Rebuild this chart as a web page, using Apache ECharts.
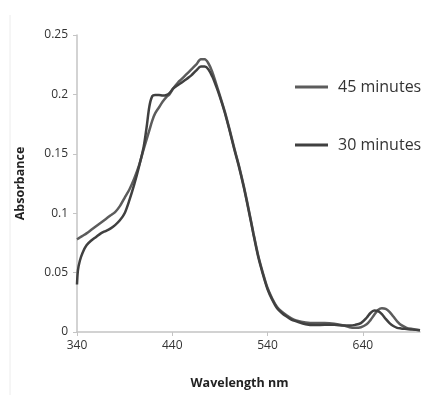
<!DOCTYPE html>
<html>
<head>
<meta charset="utf-8">
<script src="https://cdn.jsdelivr.net/npm/echarts@6/dist/echarts.min.js"></script>
<style>html,body{margin:0;padding:0;background:#fff;}#c{width:425px;height:395px;}</style>
</head>
<body>
<div id="c"></div>
<script>
const wavelengths = [340,341,343,346,350,355,360,365,370,375,380,385,390,395,400,405,410,413,416,419,422,426,430,434,437,441,446,450,455,460,465,470,474,478,482,486,490,495,500,505,510,515,520,525,530,535,540,545,550,555,560,565,570,580,590,600,610,620,626,632,638,644,648,652,656,660,664,668,672,676,680,686,692,700];
const abs45 = [0.078,0.0785,0.0795,0.081,0.083,0.086,0.089,0.092,0.095,0.098,0.101,0.106,0.113,0.120,0.129,0.140,0.154,0.162,0.170,0.178,0.184,0.189,0.194,0.198,0.200,0.205,0.210,0.213,0.217,0.221,0.225,0.2295,0.2295,0.226,0.219,0.209,0.199,0.186,0.171,0.155,0.140,0.123,0.104,0.084,0.065,0.050,0.037,0.028,0.021,0.017,0.014,0.0115,0.0098,0.008,0.0075,0.0075,0.007,0.0055,0.004,0.0035,0.004,0.0065,0.010,0.0145,0.0185,0.020,0.0195,0.017,0.013,0.009,0.006,0.0035,0.0025,0.0015];
const abs30 = [0.040,0.052,0.060,0.067,0.073,0.077,0.080,0.083,0.085,0.087,0.090,0.094,0.100,0.111,0.124,0.139,0.156,0.172,0.190,0.1985,0.1995,0.1995,0.199,0.1995,0.201,0.205,0.208,0.210,0.213,0.216,0.220,0.2235,0.2235,0.221,0.215,0.207,0.198,0.185,0.170,0.154,0.139,0.122,0.103,0.083,0.064,0.049,0.036,0.027,0.020,0.016,0.013,0.0105,0.009,0.0065,0.0058,0.006,0.006,0.0055,0.0055,0.006,0.0075,0.012,0.016,0.018,0.0175,0.015,0.011,0.0075,0.005,0.0035,0.003,0.0025,0.002,0.0015];
const seriesNames = ['45 minutes','30 minutes'];
const yTicks = [0,0.05,0.1,0.15,0.2,0.25];

const pair = (xs, ys) => xs.map((x,i)=>[x, ys[i]]);
const chart = echarts.init(document.getElementById('c'));
const font = '"Open Sans", sans-serif';
chart.setOption({
  animation:false,
  backgroundColor:'#fff',
  grid:{left:77,right:5,top:35,bottom:58,containLabel:false},
  legend:{
    orient:'vertical', left:290, top:74, itemGap:42,
    itemWidth:33, itemHeight:3, icon:'rect',
    textStyle:{fontFamily:font,fontSize:16,color:'#333',padding:[0,0,0,5]},
    data:seriesNames
  },
  xAxis:{
    type:'value', min:340, max:700, interval:100,
    name:'Wavelength nm', nameLocation:'middle', nameGap:45,
    nameTextStyle:{fontFamily:font,fontSize:12.5,fontWeight:'bold',color:'#222',padding:[0,18,0,0]},
    axisLine:{show:true,lineStyle:{color:'#c4c4c4',width:1.5}},
    axisTick:{show:true,length:4,lineStyle:{color:'#c4c4c4'}},
    axisLabel:{showMaxLabel:false,fontFamily:font,fontSize:12,color:'#333',margin:8},
    splitLine:{show:false}
  },
  yAxis:{
    type:'value', min:yTicks[0], max:yTicks[yTicks.length-1], interval:0.05,
    name:'Absorbance', nameLocation:'middle', nameGap:50,
    nameTextStyle:{fontFamily:font,fontSize:12.5,fontWeight:'bold',color:'#222'},
    axisLine:{show:true,lineStyle:{color:'#c4c4c4',width:1.5}},
    axisTick:{show:true,length:4,lineStyle:{color:'#c4c4c4'}},
    axisLabel:{fontFamily:font,fontSize:12,color:'#333',margin:9},
    splitLine:{show:false}
  },
  graphic:[{type:'line',shape:{x1:10,y1:15,x2:10,y2:395},style:{stroke:'#ececec',lineWidth:1},silent:true}],
  series:[
    {name:seriesNames[0],type:'line',data:pair(wavelengths,abs45),showSymbol:false,smooth:0.3,
     lineStyle:{width:2.5,color:'#5c5c5c'},itemStyle:{color:'#5c5c5c'}},
    {name:seriesNames[1],type:'line',data:pair(wavelengths,abs30),showSymbol:false,smooth:0.3,
     lineStyle:{width:2.5,color:'#404040'},itemStyle:{color:'#404040'}}
  ]
});
</script>
</body>
</html>
